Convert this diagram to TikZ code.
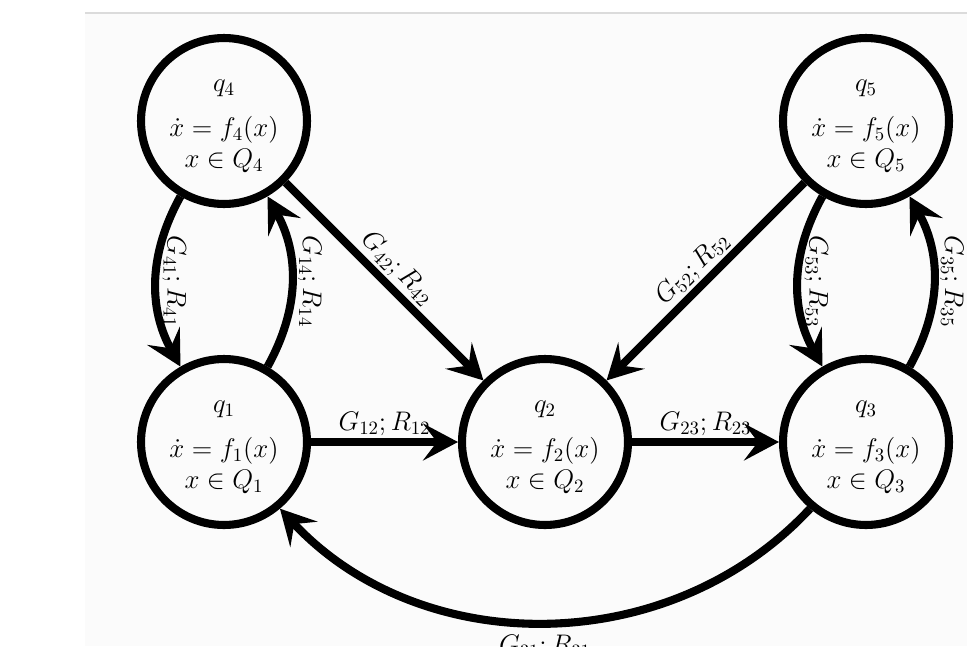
\RequirePackage{fix-cm}
\documentclass[tikz,border=0pt]{standalone}
\usetikzlibrary{arrows.meta}
\begin{document}
\begin{tikzpicture}[x=0.02cm,y=-0.02cm,
  state/.style={circle,draw,line width=4.6pt,minimum size=3.32cm,inner sep=0pt},
  txt/.style={align=center,font=\fontsize{15.3}{17.6}\selectfont,inner sep=0pt},
  lbl/.style={font=\fontsize{15.3}{17.6}\selectfont,inner sep=3.5pt,outer sep=0pt},
  arr/.style={line width=4.6pt,-{Stealth[length=0.7cm,width=0.74cm,inset=0.28cm]}}]
\useasboundingbox (0,0) rectangle (967,646);
\clip (0,0) rectangle (967,646);
\fill[white] (0,0) rectangle (967,646);
\fill[black!1.5] (85,13) rectangle (967,646);
\draw[black!14, line width=0.6pt] (85,13) -- (967,13);

\node[state] (q4) at (224,121) {};
\node[state] (q5) at (866,121) {};
\node[state] (q1) at (224,442) {};
\node[state] (q2) at (545,442) {};
\node[state] (q3) at (866,442) {};

\node[txt] (t4) at ([yshift=-3pt]q4.center) {$q_4$\\[8pt]$\dot x = f_4(x)$\\$x \in Q_4$};
\node[txt] (t5) at ([yshift=-3pt]q5.center) {$q_5$\\[8pt]$\dot x = f_5(x)$\\$x \in Q_5$};
\node[txt] (t1) at ([yshift=-3pt]q1.center) {$q_1$\\[8pt]$\dot x = f_1(x)$\\$x \in Q_1$};
\node[txt] (t2) at ([yshift=-3pt]q2.center) {$q_2$\\[8pt]$\dot x = f_2(x)$\\$x \in Q_2$};
\node[txt] (t3) at ([yshift=-3pt]q3.center) {$q_3$\\[8pt]$\dot x = f_3(x)$\\$x \in Q_3$};

\draw[arr] (q1) -- node[lbl,anchor=south]{$G_{12};R_{12}$} (q2);
\draw[arr] (q2) -- node[lbl,anchor=south]{$G_{23};R_{23}$} (q3);
\draw[arr] (q4) -- node[lbl,anchor=south,rotate=-45]{$G_{42};R_{42}$} (q2);
\draw[arr] (q5) -- node[lbl,anchor=south,rotate=45]{$G_{52};R_{52}$} (q2);

\draw[arr] (q4.240) to[out=241,in=119] node[lbl,anchor=south,rotate=-90]{$G_{41};R_{41}$} (q1.120);
\draw[arr] (q1.60) to[out=61,in=299] node[lbl,anchor=south,rotate=-90]{$G_{14};R_{14}$} (q4.300);
\draw[arr] (q5.240) to[out=241,in=119] node[lbl,anchor=south,rotate=-90]{$G_{53};R_{53}$} (q3.120);
\draw[arr] (q3.60) to[out=61,in=299] node[lbl,anchor=south,rotate=-90]{$G_{35};R_{35}$} (q5.300);
\draw[arr] (q3.230) to[out=227,in=-47] node[lbl,anchor=north,yshift=-4pt]{$G_{31};R_{31}$} (q1.310);
\end{tikzpicture}
\end{document}
